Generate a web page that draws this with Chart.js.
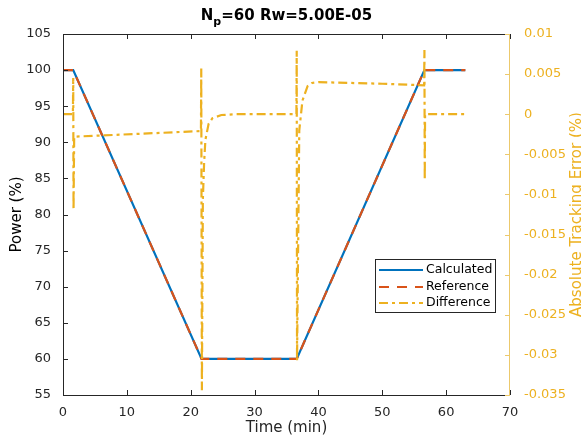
<!DOCTYPE html>
<html>
<head>
<meta charset="utf-8">
<script src="https://cdn.jsdelivr.net/npm/chart.js@4"></script>
<style>
  html, body { margin: 0; padding: 0; background: #fff; }
  #wrap { width: 581px; height: 440px; }
</style>
</head>
<body>
<div id="wrap"><canvas id="myChart" width="581" height="440"></canvas></div>
<script>
// power trace (left axis)
const timeP = [0, 1.6, 21.7, 36.6, 56.6, 63]
const calculated = [100, 100, 60, 60, 100, 100]
const reference = [100, 100, 60, 60, 100, 100]

// tracking error (right axis)
const timeD = [0, 1.55, 1.6, 1.65, 1.75, 21.6, 21.65, 21.75, 21.9, 22.1, 22.3, 22.8, 23.4, 24.8, 27.0,
  36.55, 36.6, 36.65, 37.0, 37.5, 38.3, 39.0, 40.0, 50.0, 56.55, 56.6, 56.65, 56.7, 63]
const difference = [0, 0, 0.0045, -0.0119, -0.0028, -0.0021, 0.0057, -0.0344, -0.0107, -0.006, -0.0032, -0.0012, -0.0005, -0.0001, 0,
  0, 0.0079, -0.0307, -0.002, 0.0017, 0.0035, 0.0039, 0.004, 0.0038, 0.0036, 0.008, -0.0082, 0, 0]

const xTicks = [0, 10, 20, 30, 40, 50, 60, 70]

const blue = '#0072BD'
const orange = '#D95319'
const yellow = '#EDB120'
const dark = '#262626'
const font = 'DejaVu Sans'

const pts = (xs, ys) => xs.map((x, i) => ({x: x, y: ys[i]}))

// inward ticks, box edges, subscript title, right title, legend
const decor = {
  id: 'decor',
  afterDatasetsDraw(chart) {
    const ctx = chart.ctx
    const a = chart.chartArea
    const sx = chart.scales.x, sy = chart.scales.y, sy2 = chart.scales.y2
    ctx.save()
    ctx.lineWidth = 1
    ctx.strokeStyle = dark
    ctx.beginPath()
    ctx.moveTo(a.left + 0.5, a.top + 0.5)
    ctx.lineTo(a.right, a.top + 0.5)
    ctx.moveTo(a.left + 0.5, a.top)
    ctx.lineTo(a.left + 0.5, a.bottom + 0.5)
    ctx.lineTo(a.right, a.bottom + 0.5)
    sx.ticks.forEach(t => {
      const px = Math.round(sx.getPixelForValue(t.value)) + 0.5
      ctx.moveTo(px, a.bottom); ctx.lineTo(px, a.bottom - 5)
      ctx.moveTo(px, a.top); ctx.lineTo(px, a.top + 5)
    })
    sy.ticks.forEach(t => {
      const py = Math.round(sy.getPixelForValue(t.value)) + 0.5
      ctx.moveTo(a.left, py); ctx.lineTo(a.left + 5, py)
    })
    ctx.stroke()

    ctx.strokeStyle = '#ecc96c'
    ctx.beginPath()
    ctx.moveTo(a.right - 0.5, a.top)
    ctx.lineTo(a.right - 0.5, a.bottom + 1)
    sy2.ticks.forEach(t => {
      const py = Math.round(sy2.getPixelForValue(t.value)) + 0.5
      ctx.moveTo(a.right, py); ctx.lineTo(a.right - 5, py)
    })
    ctx.stroke()

    // title with subscript
    ctx.fillStyle = '#000'
    ctx.textBaseline = 'alphabetic'
    const big = 'bold 15px "' + font + '"', small = 'bold 11px "' + font + '"'
    const p1 = 'N', p3 = '=60 Rw=5.00E-05'
    ctx.font = big
    const w1 = ctx.measureText(p1).width
    const w3 = ctx.measureText(p3).width
    ctx.font = small
    const w2 = ctx.measureText('p').width
    let tx = (a.left + a.right) / 2 - (w1 + w2 + w3) / 2
    ctx.textAlign = 'left'
    ctx.font = big
    ctx.fillText(p1, tx, 20)
    ctx.font = small
    ctx.fillText('p', tx + w1, 25)
    ctx.font = big
    ctx.fillText(p3, tx + w1 + w2, 20)

    // right axis title (reads upward)
    ctx.save()
    ctx.translate(577, (a.top + a.bottom) / 2)
    ctx.rotate(-Math.PI / 2)
    ctx.textAlign = 'center'
    ctx.textBaseline = 'middle'
    ctx.font = '15px "' + font + '"'
    ctx.fillStyle = yellow
    ctx.fillText('Absolute Tracking Error (%)', 0, 0)
    ctx.restore()

    // legend box
    const bx = 375, by = 259, bw = 120, bh = 53
    ctx.fillStyle = '#fff'
    ctx.fillRect(bx, by, bw, bh)
    ctx.strokeStyle = dark
    ctx.lineWidth = 1
    ctx.strokeRect(bx + 0.5, by + 0.5, bw, bh)
    const rows = [270, 287, 303]
    chart.data.datasets.forEach((ds, i) => {
      const y = rows[i]
      ctx.beginPath()
      ctx.strokeStyle = ds.borderColor
      ctx.lineWidth = 2
      ctx.setLineDash(ds.borderDash || [])
      ctx.moveTo(bx + 4, y)
      ctx.lineTo(bx + 48, y)
      ctx.stroke()
      ctx.setLineDash([])
      ctx.fillStyle = '#000'
      ctx.font = '12.5px "' + font + '"'
      ctx.textAlign = 'left'
      ctx.textBaseline = 'middle'
      ctx.fillText(ds.label, bx + 51, y)
    })
    ctx.restore()
  }
}

const ctx = document.getElementById('myChart').getContext('2d')

new Chart(ctx, {
  type: 'line',
  data: {
    datasets: [
      {
        label: 'Calculated',
        data: pts(timeP, calculated),
        borderColor: blue,
        borderWidth: 2.2,
        yAxisID: 'y',
        order: 3
      },
      {
        label: 'Reference',
        data: pts(timeP, reference),
        borderColor: orange,
        borderWidth: 2.2,
        borderDash: [10, 8],
        yAxisID: 'y',
        order: 2
      },
      {
        label: 'Difference',
        data: pts(timeD, difference),
        borderColor: yellow,
        borderWidth: 2.2,
        borderDash: [9, 4, 3, 4],
        yAxisID: 'y2',
        order: 1
      }
    ]
  },
  options: {
    responsive: false,
    animation: false,
    elements: { point: { radius: 0 }, line: { tension: 0 } },
    layout: { padding: { top: 34, left: 0, right: 0, bottom: 0 } },
    plugins: {
      legend: { display: false },
      title: { display: false },
      tooltip: { enabled: false }
    },
    scales: {
      x: {
        type: 'linear',
        min: 0,
        max: 70,
        afterBuildTicks: s => { s.ticks = xTicks.map(v => ({value: v})) },
        grid: { display: false },
        border: { display: false },
        ticks: { color: dark, font: { family: font, size: 13 }, padding: 2, maxRotation: 0 },
        title: { display: true, text: 'Time (min)', color: dark, font: { family: font, size: 15 }, padding: { top: 0, bottom: 3 } },
        afterFit: s => { s.height = 45 }
      },
      y: {
        type: 'linear',
        position: 'left',
        min: 55,
        max: 105,
        ticks: { stepSize: 5, color: dark, font: { family: font, size: 13 }, padding: 4 },
        grid: { display: false },
        border: { display: false },
        title: { display: true, text: 'Power (%)', color: '#000', font: { family: font, size: 15 }, padding: { top: 8, bottom: 0 } },
        afterFit: s => { s.width = 63 }
      },
      y2: {
        type: 'linear',
        position: 'right',
        min: -0.035,
        max: 0.01,
        ticks: {
          stepSize: 0.005,
          color: yellow,
          font: { family: font, size: 13 },
          padding: 6,
          callback: v => String(Number(v.toFixed(3)))
        },
        grid: { display: false },
        border: { display: false },
        afterFit: s => { s.width = 71 }
      }
    }
  },
  plugins: [decor]
})
</script>
</body>
</html>
